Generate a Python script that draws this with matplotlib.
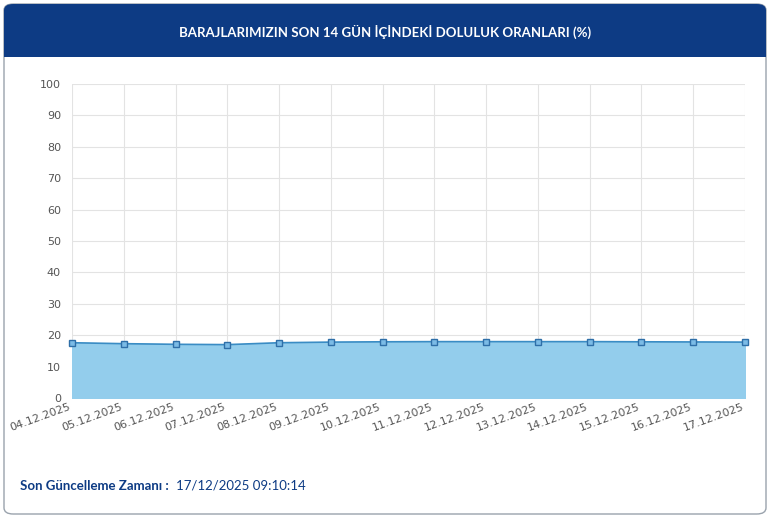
import matplotlib
matplotlib.use("Agg")
import matplotlib.pyplot as plt
from matplotlib.patches import FancyBboxPatch, Rectangle

dates = ["04.12.2025","05.12.2025","06.12.2025","07.12.2025","08.12.2025","09.12.2025","10.12.2025",
         "11.12.2025","12.12.2025","13.12.2025","14.12.2025","15.12.2025","16.12.2025","17.12.2025"]
values = [17.6,17.3,17.1,17.0,17.6,17.8,17.9,17.95,17.95,17.95,17.95,17.9,17.85,17.8]
yticks = list(range(0,101,10))

fig = plt.figure(figsize=(7.7,5.18), dpi=100)
fig.patch.set_facecolor("white")
card = FancyBboxPatch((4/770, 4/518), 762/770, 510/518, boxstyle="round,pad=0,rounding_size=0.012",
                      transform=fig.transFigure, facecolor="white", edgecolor="#9aa3ad", lw=1, zorder=-3)
fig.patches.append(card)
hdr = FancyBboxPatch((4/770, 461/518), 762/770, 53/518, boxstyle="round,pad=0,rounding_size=0.012",
                     transform=fig.transFigure, facecolor="#0d3b84", edgecolor="none", zorder=-2)
fig.patches.append(hdr)
fig.patches.append(Rectangle((4/770, 461/518), 762/770, 15/518, transform=fig.transFigure,
                             facecolor="#0d3b84", edgecolor="none", zorder=-2))
fig.text(0.5, 1-32/518, "BARAJLARIMIZIN SON 14 GÜN İÇİNDEKİ DOLULUK ORANLARI (%)", ha="center", va="center",
         color="white", fontsize=9.5, fontweight="bold", family="Lato")

ax = fig.add_axes([72/770, 1-398/518, 673/770, 314/518])
ax.set_zorder(5)
ax.set_facecolor("none")
x = list(range(len(dates)))
ax.fill_between(x, values, 0, color="#93cdec", alpha=1, zorder=2)
ax.plot(x, values, color="#3a8cc4", lw=1.2, zorder=3)
ax.plot(x, values, ls="none", marker="s", ms=5, mfc="#7bbbe6", mec="#2f6fa8", mew=1, zorder=4, clip_on=False)
ax.set_xlim(0, len(dates)-1)
ax.set_ylim(0, 100)
ax.set_yticks(yticks)
ax.set_xticks(x)
ax.set_xticklabels(dates, rotation=20, ha="right", fontsize=8, color="#555555")
ax.tick_params(axis="y", labelsize=8, labelcolor="#555555", length=0, pad=8)
ax.tick_params(axis="x", length=0, pad=3)
ax.grid(True, color="#e3e3e3", lw=0.8, zorder=0)
for s in ax.spines.values():
    s.set_visible(False)

fig.text(20/770, 1-486/518, "Son Güncelleme Zamanı : ", fontsize=9.5, fontweight="bold", color="#0d3b84",
         va="center", family="Lato")
fig.text(176/770, 1-486/518, "17/12/2025 09:10:14", fontsize=9.5, color="#0d3b84", va="center", family="Lato")
fig.savefig("out.png", dpi=100)
